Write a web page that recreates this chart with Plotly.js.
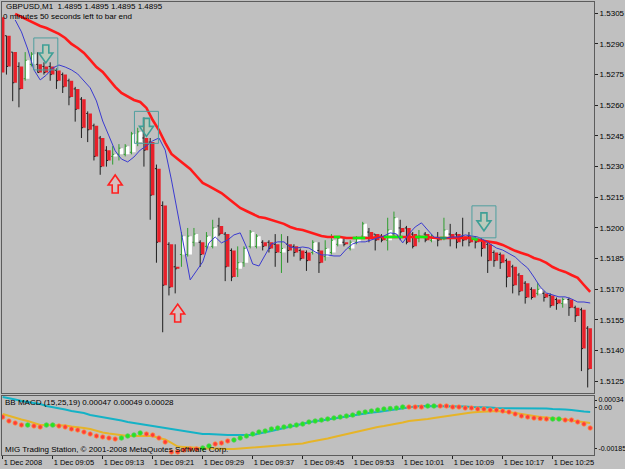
<!DOCTYPE html>
<html><head><meta charset="utf-8">
<script src="https://cdn.plot.ly/plotly-3.0.1.min.js"></script>
<style>html,body{margin:0;padding:0;background:#c0c0c0;}#chart{width:625px;height:469px;}</style>
</head><body><div id="chart"></div>
<script>
// ---- data (GBPUSD M1, 1 Dec 2008, 08:57 .. 10:31) ----
const tickIdx = [0, 8, 16, 24, 32, 40, 48, 56, 64, 72, 80, 88];
const tickText = ["1 Dec 2008", "1 Dec 09:05", "1 Dec 09:13", "1 Dec 09:21", "1 Dec 09:29", "1 Dec 09:37",
  "1 Dec 09:45", "1 Dec 09:53", "1 Dec 10:01", "1 Dec 10:09", "1 Dec 10:17", "1 Dec 10:25"];
const priceTicks = [1.5125, 1.5140, 1.5155, 1.5170, 1.5185, 1.5200, 1.5215, 1.5230, 1.5245, 1.5260, 1.5275, 1.5290, 1.5305];
const macdTicks = [0.00034, 0.0, -0.00185];
const macdTickText = ["0.00034", "0.00", "-0.00185"];

const openP = [1.5303,1.5294,1.5286,1.5279,1.5273,1.5280,1.5280,1.5279,1.5279,1.5277,
1.5275,1.5272,1.5268,1.5263,1.5256,1.5250,1.5244,1.5238,1.5235,1.5236,
1.5236,1.5237,1.5242,1.5244,1.5242,1.5229,1.5211,1.5192,1.5181,1.5187,
1.5187,1.5193,1.5193,1.5191,1.5191,1.5201,1.5197,1.5189,1.5180,1.5183,
1.5191,1.5191,1.5193,1.5193,1.5192,1.5188,1.5192,1.5191,1.5189,1.5188,
1.5188,1.5189,1.5186,1.5188,1.5192,1.5193,1.5190,1.5193,1.5196,1.5198,
1.5197,1.5196,1.5194,1.5197,1.5200,1.5200,1.5197,1.5195,1.5197,1.5194,
1.5195,1.5195,1.5197,1.5197,1.5196,1.5196,1.5195,1.5194,1.5192,1.5188,
1.5187,1.5184,1.5181,1.5177,1.5173,1.5170,1.5168,1.5168,1.5167,1.5165,
1.5163,1.5165,1.5161,1.5160,1.5151];
const highP = [1.5307,1.5294,1.5286,1.5281,1.5286,1.5286,1.5286,1.5281,1.5281,1.5278,
1.5276,1.5273,1.5269,1.5264,1.5257,1.5251,1.5245,1.5240,1.5240,1.5241,
1.5241,1.5247,1.5249,1.5254,1.5244,1.5231,1.5213,1.5193,1.5192,1.5198,
1.5200,1.5200,1.5194,1.5198,1.5204,1.5205,1.5198,1.5190,1.5191,1.5191,
1.5199,1.5197,1.5194,1.5194,1.5197,1.5197,1.5196,1.5192,1.5190,1.5189,
1.5194,1.5193,1.5194,1.5197,1.5196,1.5195,1.5194,1.5196,1.5203,1.5200,
1.5197,1.5197,1.5205,1.5208,1.5204,1.5201,1.5198,1.5199,1.5198,1.5197,
1.5198,1.5205,1.5202,1.5198,1.5205,1.5198,1.5196,1.5195,1.5193,1.5189,
1.5188,1.5185,1.5182,1.5178,1.5174,1.5171,1.5173,1.5169,1.5168,1.5166,
1.5166,1.5166,1.5162,1.5161,1.5152];
const lowP = [1.5275,1.5275,1.5262,1.5259,1.5272,1.5279,1.5276,1.5275,1.5272,1.5268,
1.5266,1.5260,1.5252,1.5244,1.5242,1.5233,1.5226,1.5230,1.5231,1.5233,
1.5235,1.5236,1.5240,1.5230,1.5204,1.5183,1.5149,1.5167,1.5168,1.5181,
1.5186,1.5191,1.5181,1.5189,1.5190,1.5196,1.5174,1.5174,1.5176,1.5181,
1.5190,1.5190,1.5189,1.5188,1.5181,1.5178,1.5183,1.5186,1.5184,1.5179,
1.5187,1.5178,1.5184,1.5187,1.5191,1.5191,1.5189,1.5192,1.5195,1.5193,
1.5189,1.5193,1.5189,1.5196,1.5194,1.5192,1.5190,1.5193,1.5193,1.5193,
1.5191,1.5194,1.5191,1.5190,1.5191,1.5191,1.5190,1.5186,1.5178,1.5181,
1.5180,1.5171,1.5168,1.5167,1.5163,1.5165,1.5167,1.5164,1.5161,1.5160,
1.5161,1.5157,1.5154,1.5130,1.5122];
const closeP = [1.5276,1.5279,1.5271,1.5268,1.5282,1.5285,1.5276,1.5276,1.5275,1.5272,
1.5269,1.5264,1.5258,1.5249,1.5248,1.5235,1.5230,1.5233,1.5236,1.5239,
1.5240,1.5246,1.5247,1.5238,1.5216,1.5193,1.5172,1.5171,1.5180,1.5196,
1.5196,1.5197,1.5187,1.5196,1.5200,1.5197,1.5181,1.5176,1.5183,1.5190,
1.5198,1.5196,1.5191,1.5190,1.5188,1.5190,1.5189,1.5188,1.5185,1.5184,
1.5193,1.5183,1.5190,1.5194,1.5195,1.5192,1.5193,1.5195,1.5202,1.5195,
1.5194,1.5194,1.5199,1.5205,1.5198,1.5193,1.5191,1.5196,1.5194,1.5196,
1.5194,1.5199,1.5195,1.5193,1.5194,1.5193,1.5193,1.5190,1.5184,1.5184,
1.5183,1.5176,1.5172,1.5169,1.5166,1.5166,1.5170,1.5166,1.5162,1.5163,
1.5165,1.5161,1.5157,1.5141,1.5131];

const maFast = [null,null,1.53017,1.52959,1.52875,1.52773,1.52724,1.52748,1.52782,1.52797,
1.52787,1.52773,1.52753,1.52719,1.52685,1.52621,1.52523,1.52450,1.52377,1.52337,
1.52323,1.52347,1.52381,1.52401,1.52426,1.52440,1.52381,1.52235,1.52073,1.51902,
1.51746,1.51790,1.51834,1.51927,1.51956,1.51927,1.51941,1.51966,1.51976,1.51907,
1.51824,1.51814,1.51868,1.51922,1.51932,1.51932,1.51907,1.51902,1.51907,1.51902,
1.51883,1.51868,1.51868,1.51863,1.51863,1.51897,1.51922,1.51932,1.51932,1.51941,
1.51951,1.51961,1.51976,1.51971,1.51927,1.51971,1.52005,1.52025,1.51990,1.51956,
1.51951,1.51951,1.51956,1.51956,1.51966,1.51961,1.51956,1.51941,1.51922,1.51902,
1.51892,1.51873,1.51858,1.51829,1.51804,1.51760,1.51712,1.51682,1.51672,1.51663,
1.51663,1.51653,1.51638,1.51638,1.51633];
const maSlow = [null,null,1.53047,1.53032,1.53017,1.53003,1.52988,1.52978,1.52963,1.52949,
1.52929,1.52900,1.52880,1.52856,1.52822,1.52787,1.52763,1.52724,1.52690,1.52660,
1.52641,1.52626,1.52616,1.52587,1.52528,1.52479,1.52416,1.52362,1.52337,1.52313,
1.52289,1.52254,1.52220,1.52205,1.52186,1.52171,1.52147,1.52122,1.52098,1.52083,
1.52069,1.52054,1.52049,1.52039,1.52029,1.52020,1.52005,1.51995,1.51990,1.51981,
1.51971,1.51961,1.51956,1.51956,1.51956,1.51951,1.51951,1.51951,1.51951,1.51951,
1.51956,1.51956,1.51956,1.51956,1.51956,1.51956,1.51956,1.51956,1.51956,1.51951,
1.51951,1.51951,1.51951,1.51951,1.51951,1.51951,1.51941,1.51937,1.51932,1.51927,
1.51917,1.51902,1.51888,1.51878,1.51868,1.51853,1.51844,1.51829,1.51809,1.51795,
1.51785,1.51770,1.51756,1.51721,1.51687];
// bars where the slow MA is flat (drawn green)
const flatSegments = [[53,54],[56,58],[61,64],[66,68],[70,71],[75,76]];

const sellIdx = [6.9, 23.0, 77.0];
const sellPrice = [1.52851, 1.52492, 1.52030];
const buyIdx = [18.0, 28.0];
const buyPrice = [1.52215, 1.51584];

const macdMain = [0.000474,0.000429,0.000362,0.000295,0.000251,0.000206,0.000161,0.000072,0.000027,-0.000040,
-0.000085,-0.000152,-0.000196,-0.000241,-0.000331,-0.000375,-0.000420,-0.000487,-0.000532,-0.000576,
-0.000643,-0.000688,-0.000733,-0.000778,-0.000800,-0.000867,-0.000912,-0.000957,-0.001001,-0.001046,
-0.001090,-0.001135,-0.001180,-0.001180,-0.001202,-0.001225,-0.001225,-0.001225,-0.001225,-0.001225,
-0.001225,-0.001157,-0.001113,-0.001046,-0.000979,-0.000912,-0.000845,-0.000778,-0.000710,-0.000666,
-0.000599,-0.000576,-0.000532,-0.000487,-0.000420,-0.000398,-0.000353,-0.000308,-0.000263,-0.000219,
-0.000196,-0.000152,-0.000107,-0.000062,-0.000018,0.000027,0.000049,0.000072,0.000072,0.000072,
0.000072,0.000072,0.000072,0.000072,0.000049,0.000027,0.000027,0.000027,0.000005,-0.000018,
-0.000018,-0.000018,-0.000018,-0.000018,-0.000018,-0.000018,-0.000018,-0.000040,-0.000062,-0.000062,
-0.000085,-0.000107,-0.000152,-0.000174,-0.000196];
const macdSignal = [-0.000286,-0.000375,-0.000442,-0.000532,-0.000599,-0.000688,-0.000778,-0.000778,-0.000778,-0.000778,
-0.000800,-0.000845,-0.000867,-0.000912,-0.000957,-0.001046,-0.001113,-0.001157,-0.001202,-0.001247,
-0.001269,-0.001269,-0.001269,-0.001269,-0.001269,-0.001359,-0.001426,-0.001582,-0.001739,-0.001761,
-0.001783,-0.001806,-0.001806,-0.001828,-0.001828,-0.001850,-0.001850,-0.001850,-0.001828,-0.001806,
-0.001806,-0.001783,-0.001739,-0.001716,-0.001694,-0.001672,-0.001649,-0.001627,-0.001604,-0.001537,
-0.001493,-0.001448,-0.001381,-0.001314,-0.001247,-0.001180,-0.001113,-0.001046,-0.001001,-0.000934,
-0.000867,-0.000822,-0.000778,-0.000710,-0.000666,-0.000599,-0.000576,-0.000532,-0.000509,-0.000465,
-0.000420,-0.000375,-0.000353,-0.000308,-0.000263,-0.000219,-0.000196,-0.000174,-0.000152,-0.000152,
-0.000174,-0.000196,-0.000241,-0.000286,-0.000331,-0.000398,-0.000420,-0.000442,-0.000465,-0.000509,
-0.000532,-0.000576,-0.000621,-0.000643,-0.000688];
const macdDots = [-0.000420,-0.000599,-0.000688,-0.000778,-0.000778,-0.000822,-0.000867,-0.000778,-0.000778,-0.000822,
-0.000867,-0.000957,-0.001001,-0.001090,-0.001180,-0.001269,-0.001314,-0.001359,-0.001403,-0.001359,
-0.001269,-0.001225,-0.001135,-0.001180,-0.001225,-0.001359,-0.001537,-0.001984,-0.001984,-0.001895,
-0.001850,-0.001850,-0.001806,-0.001716,-0.001627,-0.001582,-0.001493,-0.001448,-0.001359,-0.001269,
-0.001180,-0.001090,-0.001046,-0.000957,-0.000912,-0.000867,-0.000822,-0.000778,-0.000733,-0.000643,
-0.000599,-0.000554,-0.000509,-0.000465,-0.000420,-0.000375,-0.000331,-0.000241,-0.000196,-0.000152,
-0.000107,-0.000062,-0.000040,-0.000018,0.000027,0.000027,0.000027,0.000027,0.000072,0.000072,
0.000072,0.000072,0.000027,0.000027,-0.000018,-0.000018,-0.000062,-0.000062,-0.000107,-0.000107,
-0.000152,-0.000196,-0.000286,-0.000375,-0.000420,-0.000465,-0.000487,-0.000509,-0.000509,-0.000509,
-0.000554,-0.000554,-0.000643,-0.000733,-0.000912];
// u = rising (green dot), d = falling (red dot)
const dotTrend = ("dddd" + "u" + "dd" + "uu" + "dddddddddd" + "uuuu" + "ddddddddd" + "uu" + "ddd" +
  "uuuuuuuuuu" + "uuuuuuuuuu" + "uuuuuuuu" + "ddd" + "uu" + "dddddddddd" + "dddddddd" + "uu" + "ddddd").split("");

// ---- build ----
const barIdx = openP.map((_, i) => i);
const ohlcX = barIdx.map(i => i - 0.4);
const flatX = [], flatY = [];
flatSegments.forEach(([a, b]) => { for (let i = a; i <= b; i++) { flatX.push(i); flatY.push(maSlow[i]); } flatX.push(null); flatY.push(null); });

const FONT = "Liberation Sans, Arial, sans-serif";
const traces = [
  {type: 'ohlc', x: ohlcX, open: openP, high: highP, low: lowP, close: closeP, xaxis: 'x', yaxis: 'y',
   tickwidth: 0.25, increasing: {line: {color: '#2f9e2f', width: 1}}, decreasing: {line: {color: '#1e1e1e', width: 1}}, hoverinfo: 'skip'},
  {type: 'candlestick', x: barIdx, open: openP, high: highP, low: lowP, close: closeP, xaxis: 'x', yaxis: 'y',
   increasing: {fillcolor: '#ffffff', line: {color: '#ffffff', width: 0}},
   decreasing: {fillcolor: '#e8202a', line: {color: '#e8202a', width: 0}}, whiskerwidth: 0, hoverinfo: 'skip'},
  {type: 'scatter', mode: 'lines', x: barIdx, y: maSlow, xaxis: 'x', yaxis: 'y', line: {color: '#ff1a1a', width: 2.6}, hoverinfo: 'skip'},
  {type: 'scatter', mode: 'lines', x: flatX, y: flatY, xaxis: 'x', yaxis: 'y', line: {color: '#10f010', width: 2.6}, connectgaps: false, hoverinfo: 'skip'},
  {type: 'scatter', mode: 'lines', x: barIdx, y: maFast, xaxis: 'x', yaxis: 'y', line: {color: '#3a3ad0', width: 1}, hoverinfo: 'skip'},
  {type: 'scatter', mode: 'lines', x: barIdx, y: macdMain, xaxis: 'x2', yaxis: 'y2', line: {color: '#14b2c6', width: 2}, hoverinfo: 'skip'},
  {type: 'scatter', mode: 'lines', x: barIdx, y: macdSignal, xaxis: 'x2', yaxis: 'y2', line: {color: '#e6b428', width: 2}, hoverinfo: 'skip'},
  {type: 'scatter', mode: 'markers', x: barIdx, y: macdDots, xaxis: 'x2', yaxis: 'y2', hoverinfo: 'skip',
   marker: {size: 4.5, color: dotTrend.map(t => t === 'u' ? '#22e622' : '#ff3a3a'),
            line: {width: 0.8, color: dotTrend.map(t => t === 'u' ? '#58c858' : '#ff9040')}}}
];

const shapes = [];
const downArrow = 'M-3,9 L3,9 L3,1 L7,1 L0,-9 L-7,1 L-3,1 Z';
const upArrow = 'M-3,-9 L3,-9 L3,-1 L7,-1 L0,9 L-7,-1 L-3,-1 Z';
sellIdx.forEach((xi, k) => {
  shapes.push({type: 'rect', xref: 'x', yref: 'y', xsizemode: 'pixel', ysizemode: 'pixel', xanchor: xi, yanchor: sellPrice[k],
    x0: -12, x1: 12, y0: -16, y1: 16, line: {color: '#4f9f9f', width: 1}, fillcolor: 'rgba(0,0,0,0)'});
  shapes.push({type: 'path', xref: 'x', yref: 'y', xsizemode: 'pixel', ysizemode: 'pixel', xanchor: xi, yanchor: sellPrice[k],
    path: downArrow, line: {color: '#3f9f96', width: 1.6}, fillcolor: 'rgba(170,230,170,0.25)'});
});
buyIdx.forEach((xi, k) => {
  shapes.push({type: 'path', xref: 'x', yref: 'y', xsizemode: 'pixel', ysizemode: 'pixel', xanchor: xi, yanchor: buyPrice[k],
    path: upArrow, line: {color: '#ff2020', width: 1.6}, fillcolor: 'rgba(255,190,190,0.35)'});
});

// paper coords helper (plot area: x 2..594, y 2..455)
const PX = x => (x - 2) / 592, PY = y => (455 - y) / 453;
const txt = (t, x, y) => ({text: t, xref: 'paper', yref: 'paper', x: PX(x), y: PY(y), xanchor: 'left', yanchor: 'middle',
  showarrow: false, font: {family: FONT, size: 8, color: '#000000'}, borderpad: 0});
const annotations = [
  txt('GBPUSD,M1  1.4895 1.4895 1.4895 1.4895', 5, 7),
  txt('0 minutes 50 seconds left to bar end', 2, 16),
  txt('BB MACD (15,25,19) 0.00047 0.00049 0.00028', 4, 402),
  txt('MIG Trading Station, © 2001-2008 MetaQuotes Software Corp.', 4, 449)
];

const axisBase = {showgrid: false, zeroline: false, showline: true, mirror: true, linecolor: '#5c5c5c', linewidth: 1};
const layout = {
  width: 625, height: 469, margin: {l: 2, r: 31, t: 2, b: 14, pad: 0},
  paper_bgcolor: '#c0c0c0', plot_bgcolor: '#c0c0c0', showlegend: false, boxgap: 0.2,
  font: {family: FONT, size: 8, color: '#000'},
  xaxis: Object.assign({}, axisBase, {domain: [0, 1], anchor: 'y', range: [-0.11, 94.61], showticklabels: false,
    ticks: '', rangeslider: {visible: false}, fixedrange: true}),
  yaxis: Object.assign({}, axisBase, {domain: [0.1369, 1], anchor: 'x', side: 'right', range: [1.51193, 1.53105],
    tickvals: priceTicks, ticktext: priceTicks.map(v => v.toFixed(4)), ticks: 'outside', ticklen: 3, tickcolor: '#222',
    tickfont: {family: FONT, size: 8, color: '#000'}, automargin: false}),
  xaxis2: Object.assign({}, axisBase, {domain: [0, 1], anchor: 'y2', matches: 'x', range: [-0.11, 94.61],
    tickvals: tickIdx, ticktext: tickText, ticks: 'outside', ticklen: 3, tickcolor: '#222', tickangle: 0,
    ticklabelposition: 'outside right', tickfont: {family: FONT, size: 7.5, color: '#000'}, automargin: false}),
  yaxis2: Object.assign({}, axisBase, {domain: [0, 0.1302], anchor: 'x2', side: 'right', range: [-0.002119, 0.000519],
    tickvals: macdTicks, ticktext: macdTickText, ticks: 'outside', ticklen: 2, tickcolor: '#222',
    tickfont: {family: FONT, size: 7, color: '#000'}, automargin: false}),
  shapes: shapes, annotations: annotations
};
Plotly.newPlot('chart', traces, layout, {staticPlot: true, displayModeBar: false});
</script></body></html>
